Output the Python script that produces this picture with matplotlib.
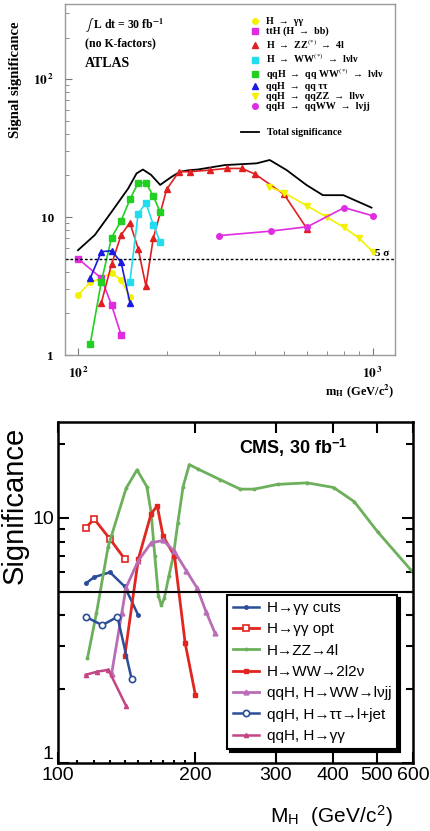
import numpy as np
import matplotlib
matplotlib.use('Agg')
import matplotlib.pyplot as plt
from matplotlib.lines import Line2D
from matplotlib.ticker import FixedLocator, NullFormatter

plt.rcParams['mathtext.fontset'] = 'stix'

# ---- ATLAS panel data (mH in GeV, significance) ----
atlas_total_m = [100, 114, 130, 148, 158, 166, 177, 190, 208, 222, 240, 255, 315, 404, 447, 510, 595, 677, 795, 990]
atlas_total_s = [5.75, 7.4, 10.9, 16.1, 20.7, 22.1, 20.2, 17.1, 19.6, 21.3, 21.9, 22.1, 23.8, 24.5, 25.9, 21.9, 17.1, 14.4, 14.4, 11.7]

atlas_gg_m = [100, 110, 120, 130, 140, 150]
atlas_gg_s = [2.72, 3.36, 3.6, 3.95, 3.5, 2.62]

atlas_tth_m = [100, 120, 130, 140]
atlas_tth_s = [5.0, 3.6, 2.3, 1.4]

atlas_zz_m = [120, 130, 140, 150, 160, 170, 180, 200, 220, 240, 280, 320, 360, 400, 500, 600]
atlas_zz_s = [2.39, 4.56, 7.4, 9.1, 5.9, 3.16, 7.0, 15.9, 21.3, 21.3, 21.9, 22.5, 22.5, 20.4, 14.6, 8.15]

atlas_ww_m = [150, 160, 170, 180, 190]
atlas_ww_s = [3.4, 10.6, 12.6, 8.8, 6.6]

atlas_qqww_m = [110, 120, 130, 140, 150, 160, 170, 180, 190]
atlas_qqww_s = [1.2, 3.4, 7.1, 9.4, 13.4, 17.7, 17.7, 14.2, 10.85]

atlas_qqtt_m = [110, 120, 130, 140, 150]
atlas_qqtt_s = [3.6, 5.6, 5.7, 4.7, 2.4]

atlas_qqzz_m = [445, 500, 600, 700, 800, 900, 1000]
atlas_qqzz_s = [16.6, 15.0, 12.0, 9.95, 8.4, 7.0, 5.6]

atlas_qqwwjj_m = [300, 450, 600, 800, 1000]
atlas_qqwwjj_s = [7.33, 7.9, 8.5, 11.7, 10.2]

# ---- CMS panel data ----
cms_zz_m = [116, 121.4, 128.8, 141, 149, 156.6, 160, 163, 166, 168.5, 171, 175, 179, 183, 188, 194, 203, 227, 251, 269, 303, 352, 402, 446, 502, 603]
cms_zz_s = [2.67, 4.08, 7.64, 13.2, 15.7, 13.4, 10.5, 7.0, 4.8, 4.4, 4.7, 5.8, 7.0, 9.5, 13.4, 16.5, 15.8, 14.3, 13.1, 13.1, 13.7, 13.9, 13.3, 11.65, 8.77, 5.93]

cms_ggopt_m = [115, 120, 130, 140]
cms_ggopt_s = [9.1, 9.9, 8.2, 6.8]

cms_ggcuts_m = [115, 120, 130, 140, 150]
cms_ggcuts_s = [5.4, 5.73, 6.0, 5.25, 4.0]

cms_ww_m = [140, 150, 160, 165, 170, 180, 190, 200]
cms_ww_s = [2.72, 6.8, 10.4, 11.2, 8.4, 7.0, 3.08, 1.9]

cms_lvjj_m = [131, 138, 141, 150, 160, 170, 180, 191, 202, 211, 221]
cms_lvjj_s = [2.3, 4.1, 5.2, 6.7, 7.9, 8.1, 7.3, 6.1, 5.16, 4.15, 3.38]

cms_tt_m = [115, 125, 135, 145]
cms_tt_s = [3.95, 3.65, 3.95, 2.2]

cms_qqgg_m = [115, 122, 129, 141]
cms_qqgg_s = [2.29, 2.36, 2.4, 1.71]

fig = plt.figure(figsize=(4.3, 8.31), dpi=100)

# ================= ATLAS =================
serif = 'Liberation Serif'
ax1 = fig.add_axes([0.151, 0.5728, 0.767, 0.4224])
ax1.set_xscale('log')
ax1.set_yscale('log')

ax1.plot(atlas_total_m, atlas_total_s, color='black', lw=1.3)
ax1.plot(atlas_gg_m, atlas_gg_s, color='#f2f200', marker='o', ms=4, lw=1.2)
ax1.plot(atlas_tth_m, atlas_tth_s, color='#e02ce0', marker='s', ms=4, lw=1.2)
ax1.plot(atlas_zz_m, atlas_zz_s, color='#e02020', marker='^', ms=4, lw=1.2)
ax1.plot(atlas_ww_m, atlas_ww_s, color='#22ddee', marker='s', ms=4, lw=1.2)
ax1.plot(atlas_qqww_m, atlas_qqww_s, color='#22d022', marker='s', ms=4, lw=1.2)
ax1.plot(atlas_qqtt_m, atlas_qqtt_s, color='#1a1ae0', marker='^', ms=4, lw=1.2)
ax1.plot(atlas_qqzz_m, atlas_qqzz_s, color='#f2f200', marker='v', ms=4, lw=1.2)
ax1.plot(atlas_qqwwjj_m, atlas_qqwwjj_s, color='#e02ce0', marker='o', ms=4, lw=1.2)
ax1.axhline(5, color='black', ls=(0, (2, 1.5)), lw=1.0)

ax1.set_xlim(90.3, 1187)
ax1.set_ylim(1, 350)
for sp in ax1.spines.values():
    sp.set_color('#999999')
    sp.set_linewidth(1.0)

ax1.xaxis.set_major_locator(FixedLocator([100, 1000]))
ax1.xaxis.set_minor_locator(FixedLocator([200, 300, 400, 500, 600, 700, 800, 900]))
ax1.xaxis.set_minor_formatter(NullFormatter())
ax1.set_xticklabels([r'$\mathbf{10^{\,2}}$', r'$\mathbf{10^{\,3}}$'])
ax1.yaxis.set_major_locator(FixedLocator([1, 10, 100]))
ax1.yaxis.set_minor_locator(FixedLocator([2, 3, 4, 5, 6, 7, 8, 9, 20, 30, 40, 50, 60, 70, 80, 90, 200, 300]))
ax1.yaxis.set_minor_formatter(NullFormatter())
ax1.set_yticklabels(['1', '10', r'$\mathbf{10^{\,2}}$'])
ax1.tick_params(which='both', direction='in', top=False, right=False, color='#777777')
ax1.tick_params(which='major', length=5, labelsize=9.5, pad=8)
ax1.tick_params(which='minor', length=3)
for lab in ax1.get_xticklabels() + ax1.get_yticklabels():
    lab.set_family(serif)
    lab.set_fontweight('bold')

ax1.set_xlabel(r'm$_{\mathbf{H}}$ (GeV/c$^{\mathbf{2}}$)', loc='right', family=serif,
               fontweight='bold', fontsize=9, labelpad=1)
fig.text(0.035, 1 - 80 / 831, 'Signal significance', rotation=90, ha='center', va='center',
         family=serif, fontweight='bold', fontsize=10.5)

ax1.text(0.06, 0.937, r'$\int$ L dt = 30 fb$^{\mathbf{-1}}$', transform=ax1.transAxes,
         family=serif, fontweight='bold', fontsize=8.5, va='center')
ax1.text(0.06, 0.889, '(no K-factors)', transform=ax1.transAxes,
         family=serif, fontweight='bold', fontsize=8.5, va='center')
ax1.text(0.06, 0.830, 'ATLAS', transform=ax1.transAxes,
         family=serif, fontweight='bold', fontsize=10, va='center')
ax1.text(375 / 430, 1 - 253 / 831, '5 σ', transform=fig.transFigure,
         family=serif, fontweight='bold', fontsize=8, va='center', ha='left')

atlas_labels = ['H  →  γγ', 'ttH (H  →  bb)', 'H  →  ZZ$^{(*)}$  →  4l', 'H  →  WW$^{(*)}$  →  lνlν',
                'qqH  →  qq WW$^{(*)}$  →  lνlν', 'qqH  →  qq ττ', 'qqH  →  qqZZ  →  llνν',
                'qqH  →  qqWW  →  lνjj']
atlas_handles = [
    Line2D([], [], color='#f2f200', marker='o', ls='none', ms=4),
    Line2D([], [], color='#e02ce0', marker='s', ls='none', ms=4),
    Line2D([], [], color='#e02020', marker='^', ls='none', ms=4),
    Line2D([], [], color='#22ddee', marker='s', ls='none', ms=4),
    Line2D([], [], color='#22d022', marker='s', ls='none', ms=4),
    Line2D([], [], color='#1a1ae0', marker='^', ls='none', ms=4),
    Line2D([], [], color='#f2f200', marker='v', ls='none', ms=4),
    Line2D([], [], color='#e02ce0', marker='o', ls='none', ms=4),
]
leg1 = ax1.legend(atlas_handles, atlas_labels, loc='upper left', bbox_to_anchor=(245 / 430, 1 - 12 / 831),
                  bbox_transform=fig.transFigure, frameon=False, handlelength=1.0, handletextpad=0.6,
                  labelspacing=0.08, borderpad=0, prop={'family': serif, 'weight': 'bold', 'size': 7.2})
ax1.add_artist(leg1)
ax1.legend([Line2D([], [], color='black', lw=1.3)], ['Total significance'], loc='upper left',
           bbox_to_anchor=(236 / 430, 1 - 123 / 831), bbox_transform=fig.transFigure, frameon=False,
           handlelength=1.8, handletextpad=0.8, borderpad=0,
           prop={'family': serif, 'weight': 'bold', 'size': 7.2})

# ================= CMS =================
sans = 'Liberation Sans'
ax2 = fig.add_axes([0.1349, 0.0818, 0.8256, 0.4103])
ax2.set_xscale('log')
ax2.set_yscale('log')

c_blue = '#2c4d98'
c_red = '#e2251f'
c_green = '#6cb05c'
c_mauve = '#b96db6'
c_pink = '#c44585'

l_cuts, = ax2.plot(cms_ggcuts_m, cms_ggcuts_s, color=c_blue, marker='o', ms=2.5, lw=1.8)
l_opt, = ax2.plot(cms_ggopt_m, cms_ggopt_s, color=c_red, marker='s', ms=5, mfc='white', mew=1.2, lw=2)
l_zz, = ax2.plot(cms_zz_m, cms_zz_s, color=c_green, marker='o', ms=1.8, lw=2)
l_ww, = ax2.plot(cms_ww_m, cms_ww_s, color=c_red, marker='s', ms=3, lw=2)
l_lvjj, = ax2.plot(cms_lvjj_m, cms_lvjj_s, color=c_mauve, marker='^', ms=3.5, lw=2)
l_tt, = ax2.plot(cms_tt_m, cms_tt_s, color=c_blue, marker='o', ms=4.5, mfc='white', mew=1.2, lw=1.8)
l_qqgg, = ax2.plot(cms_qqgg_m, cms_qqgg_s, color=c_pink, marker='^', ms=3, lw=1.8)
ax2.axhline(5, color='black', lw=1.5)

ax2.set_xlim(100, 600)
ax2.set_ylim(1, 24.6)
for sp in ax2.spines.values():
    sp.set_linewidth(1.8)

ax2.xaxis.set_major_locator(FixedLocator([100, 200, 300, 400, 500, 600]))
ax2.xaxis.set_minor_locator(FixedLocator([110, 120, 130, 140, 150, 160, 170, 180, 190]))
ax2.xaxis.set_minor_formatter(NullFormatter())
ax2.set_xticklabels(['100', '200', '300', '400', '500', '600'])
ax2.yaxis.set_major_locator(FixedLocator([1, 10]))
ax2.yaxis.set_minor_locator(FixedLocator([2, 3, 4, 5, 6, 7, 8, 9, 20]))
ax2.yaxis.set_minor_formatter(NullFormatter())
ax2.set_yticklabels(['1', '10'])
ax2.tick_params(which='both', direction='in', top=True, right=True, width=1.5)
ax2.tick_params(which='major', length=8, labelsize=14, pad=3)
ax2.tick_params(which='minor', length=5)
ax2.tick_params(axis='x', which='minor', length=2, top=False)
for lab in ax2.get_xticklabels() + ax2.get_yticklabels():
    lab.set_family(sans)
# the "1" on the y axis sits a bit higher so it does not sit on top of "100"
ax2.get_yticklabels()[0].set_verticalalignment('bottom')

ax2.set_xlabel('M$_\\mathregular{H}$  (GeV/c$^\\mathregular{2}$)', family=sans, fontsize=15, labelpad=10)
ax2.xaxis.set_label_coords(0.77, -0.12)
fig.text(0.033, 1 - 505 / 831, 'Significance', rotation=90, ha='center', va='center',
         family=sans, fontsize=21)
ax2.text(0.51, 0.925, 'CMS, 30 fb$^\\mathregular{-1}$', transform=ax2.transAxes, family=sans,
         fontweight='bold', fontsize=13, va='center')

leg2 = ax2.legend([l_cuts, l_opt, l_zz, l_ww, l_lvjj, l_tt, l_qqgg],
                  ['H→γγ cuts', 'H→γγ opt', 'H→ZZ→4l', 'H→WW→2l2ν', 'qqH, H→WW→lνjj',
                   'qqH, H→ττ→l+jet', 'qqH, H→γγ'],
                  loc='upper left', bbox_to_anchor=(0.476, 0.493), fancybox=False,
                  shadow={'color': 'black', 'alpha': 1.0}, handlelength=1.7, handletextpad=0.5,
                  labelspacing=0.48, borderpad=0.4, borderaxespad=0,
                  prop={'family': sans, 'size': 11})
leg2.get_frame().set_edgecolor('black')
leg2.get_frame().set_linewidth(1.5)
leg2.get_frame().set_alpha(1.0)

fig.savefig('out.png', dpi=100)
